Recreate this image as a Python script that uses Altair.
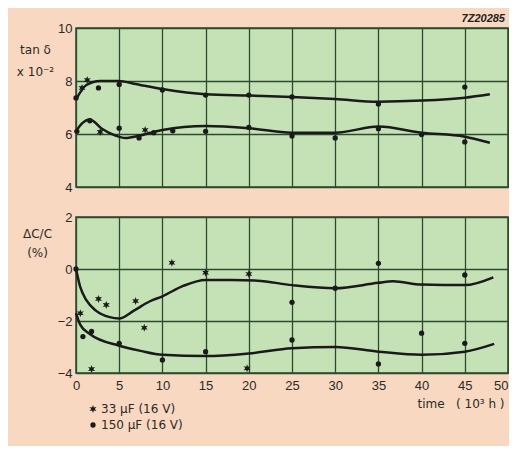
import math
import altair as alt
import pandas as pd

# ---------------- data ----------------
S33 = "33 µF (16 V)"
S150 = "150 µF (16 V)"
CODE = ["7Z20285"]

# top panel: tan delta (x 10^-2)
tan_up_curve_x = [0, 1.2, 2.8, 5, 6.7, 10, 15, 20, 25, 30, 35, 40, 45, 47.9]
tan_up_curve_y = [7.3, 7.85, 8.0, 8.0, 7.9, 7.7, 7.5, 7.45, 7.4, 7.32, 7.22, 7.26, 7.37, 7.5]
tan_lo_curve_x = [0, 0.7, 1.6, 3, 4.5, 5.7, 7.5, 10, 15, 20, 25, 30, 35, 40, 45, 47.9]
tan_lo_curve_y = [6.1, 6.4, 6.55, 6.2, 5.95, 5.85, 5.95, 6.15, 6.3, 6.22, 6.05, 6.05, 6.28, 6.05, 5.9, 5.67]

tan_pts_x = [0, 0.7, 1.3, 2.6, 5, 10, 15, 20, 25, 35, 45,
             0.1, 1.6, 2.8, 5, 7.3, 8, 9, 11.2, 15, 20, 25, 30, 35, 40, 45]
tan_pts_y = [7.36, 7.74, 8.04, 7.74, 7.87, 7.66, 7.47, 7.47, 7.4, 7.13, 7.77,
             6.1, 6.5, 6.08, 6.22, 5.85, 6.15, 6.05, 6.12, 6.1, 6.25, 5.92, 5.85, 6.2, 5.98, 5.7]
tan_pts_s = [S150, S33, S33, S150, S150, S150, S150, S150, S150, S150, S150,
             S150, S150, S33, S150, S150, S33, S150, S150, S150, S150, S150, S150, S150, S150, S150]

# bottom panel: delta C / C (%)
dc_up_curve_x = [0, 0.5, 1.2, 2.3, 3.9, 5, 6.7, 8.5, 10, 12.4, 15, 18, 21, 25, 30, 35, 36.7, 40, 45, 48.3]
dc_up_curve_y = [0, -0.7, -1.2, -1.6, -1.85, -1.9, -1.6, -1.25, -1.05, -0.65, -0.42, -0.42, -0.45,
                 -0.62, -0.74, -0.53, -0.47, -0.6, -0.62, -0.32]
dc_lo_curve_x = [0, 0.5, 1.6, 5, 7.5, 10, 15, 20, 25, 30, 35, 40, 45, 48.4]
dc_lo_curve_y = [-1.7, -2.15, -2.5, -2.95, -3.15, -3.3, -3.35, -3.25, -3.05, -3.0, -3.18, -3.3, -3.18, -2.88]

dc_pts_x = [0.5, 1.8, 2.6, 3.5, 6.9, 7.9, 11.1, 15, 20, 19.8,
            0, 0.8, 1.8, 5, 10, 15, 25, 25, 30, 35, 35, 40, 45, 45]
dc_pts_y = [-1.7, -3.85, -1.15, -1.38, -1.23, -2.26, 0.24, -0.14, -0.19, -3.82,
            0.0, -2.6, -2.4, -2.86, -3.5, -3.18, -1.28, -2.73, -0.74, 0.22, -3.65, -2.47, -0.23, -2.86]
dc_pts_s = [S33] * 10 + [S150] * 14

x_ticks = [0, 5, 10, 15, 20, 25, 30, 35, 40, 45, 50]
tan_ticks = [4, 5, 6, 7, 8, 9, 10]
dc_ticks = [-4, -3, -2, -1, 0, 1, 2]

NB = "\u00a0"
X_TITLE = f"time{NB}{NB}{NB}({NB}10³{NB}h{NB})"

# ---------------- styling ----------------
FONT = "Liberation Sans"
TFONT = "DejaVu Sans"
BG = "#f8d8c0"
PLOT_BG = "#c5e2b6"
GRID = "#2c4a2e"
INK = "#1a1a1a"
TXT = "#2a2a2a"

pts = []
for i in range(12):
    ang = math.pi / 2 + i * math.pi / 6
    r = 1.0 if i % 2 == 0 else 0.45
    pts.append((r * math.cos(ang), -r * math.sin(ang)))
STAR = "M" + "L".join(f"{px:.3f},{py:.3f}" for px, py in pts) + "Z"


def curves_df(c1x, c1y, c2x, c2y):
    return pd.DataFrame({
        "x": c1x + c2x,
        "y": c1y + c2y,
        "c": ["a"] * len(c1x) + ["b"] * len(c2x),
    })


tan_curves = curves_df(tan_up_curve_x, tan_up_curve_y, tan_lo_curve_x, tan_lo_curve_y)
dc_curves = curves_df(dc_up_curve_x, dc_up_curve_y, dc_lo_curve_x, dc_lo_curve_y)
tan_points = pd.DataFrame({"x": tan_pts_x, "y": tan_pts_y, "s": tan_pts_s})
dc_points = pd.DataFrame({"x": dc_pts_x, "y": dc_pts_y, "s": dc_pts_s})

W = 432
H_TOP = 159
H_BOT = 156

even_label = "datum.value % 2 == 0 ? datum.label : ''"

shape_scale = alt.Scale(domain=[S33, S150], range=[STAR, "circle"])
size_scale = alt.Scale(domain=[S33, S150], range=[64, 28])


def panel(curves, points, ydom, yticks, ytitle, tx, ty, tlh, bottom, legend):
    if bottom:
        xaxis = alt.Axis(values=x_ticks, grid=True, gridColor=GRID, gridWidth=1.3, gridOpacity=1,
                         ticks=False, domain=False, labelFont=FONT, labelFontSize=13,
                         labelColor=TXT, labelPadding=6, labelFlush=False,
                         labelAlign={"condition": {"test": "datum.value == 50", "value": "right"},
                                     "value": "center"},
                         title=X_TITLE, titleFont=TFONT, titleFontSize=12,
                         titleFontWeight="normal", titleColor=TXT, titleAlign="right",
                         titleX=428, titleY=30, titleBaseline="middle")
    else:
        xaxis = alt.Axis(values=x_ticks, grid=True, gridColor=GRID, gridWidth=1.3, gridOpacity=1,
                         ticks=False, domain=False, labels=False, title=None)
    yaxis = alt.Axis(values=yticks, grid=True, gridColor=GRID, gridWidth=1.3, gridOpacity=1,
                     ticks=False, domain=False, labelExpr=even_label, labelFont=FONT,
                     labelFontSize=13, labelColor=TXT, labelPadding=4, labelFlush=False,
                     title=ytitle, titleFont=TFONT, titleFontSize=12, titleFontWeight="normal",
                     titleColor=TXT, titleAngle=0, titleAlign="center", titleBaseline="top",
                     titleX=tx, titleY=ty, titleLineHeight=tlh)
    xs = alt.Scale(domain=[0, 50], nice=False, zero=False)
    ys = alt.Scale(domain=ydom, nice=False, zero=False)
    lines = alt.Chart(curves).mark_line(color=INK, strokeWidth=2.5, interpolate="monotone").encode(
        x=alt.X("x:Q", scale=xs, axis=xaxis),
        y=alt.Y("y:Q", scale=ys, axis=yaxis),
        detail="c:N",
    )
    if legend:
        leg = alt.Legend(title=None, orient="none", legendX=11, legendY=186, padding=0,
                         labelFont=TFONT, labelFontSize=12, labelColor=TXT,
                         symbolFillColor=INK, symbolStrokeColor=INK,
                         labelOffset=2, rowPadding=3)
    else:
        leg = None
    dots = alt.Chart(points).mark_point(filled=True, color=INK, opacity=1).encode(
        x=alt.X("x:Q", scale=xs),
        y=alt.Y("y:Q", scale=ys),
        shape=alt.Shape("s:N", scale=shape_scale, legend=leg),
        size=alt.Size("s:N", scale=size_scale, legend=leg),
    )
    layers = [lines, dots]
    if not bottom:
        code = alt.Chart(pd.DataFrame({"t": CODE})).mark_text(
            font=FONT, fontSize=11, fontStyle="italic", fontWeight="bold", color="#222",
            align="right", baseline="middle").encode(
            text="t:N", x=alt.value(429), y=alt.value(-9.5))
        layers.append(code)
    return alt.layer(*layers).properties(width=W, height=H_BOT if bottom else H_TOP)


top = panel(tan_curves, tan_points, [4, 10], tan_ticks, ["tan δ", "x 10⁻²"], -41, 16, 22, False, False)
bot = panel(dc_curves, dc_points, [-4, 2], dc_ticks, ["ΔC/C", "(%)"], -39, 11, 19, True, True)

chart = alt.vconcat(top, bot, spacing=30, bounds="flush").resolve_scale(
    shape="independent", size="independent").configure(
    background=BG,
    padding={"left": 7, "top": 3, "right": 0, "bottom": 14},
).configure_view(fill=PLOT_BG, stroke=GRID, strokeWidth=1.5)

chart.save("out.html", embed_options={"renderer": "svg", "actions": False})
